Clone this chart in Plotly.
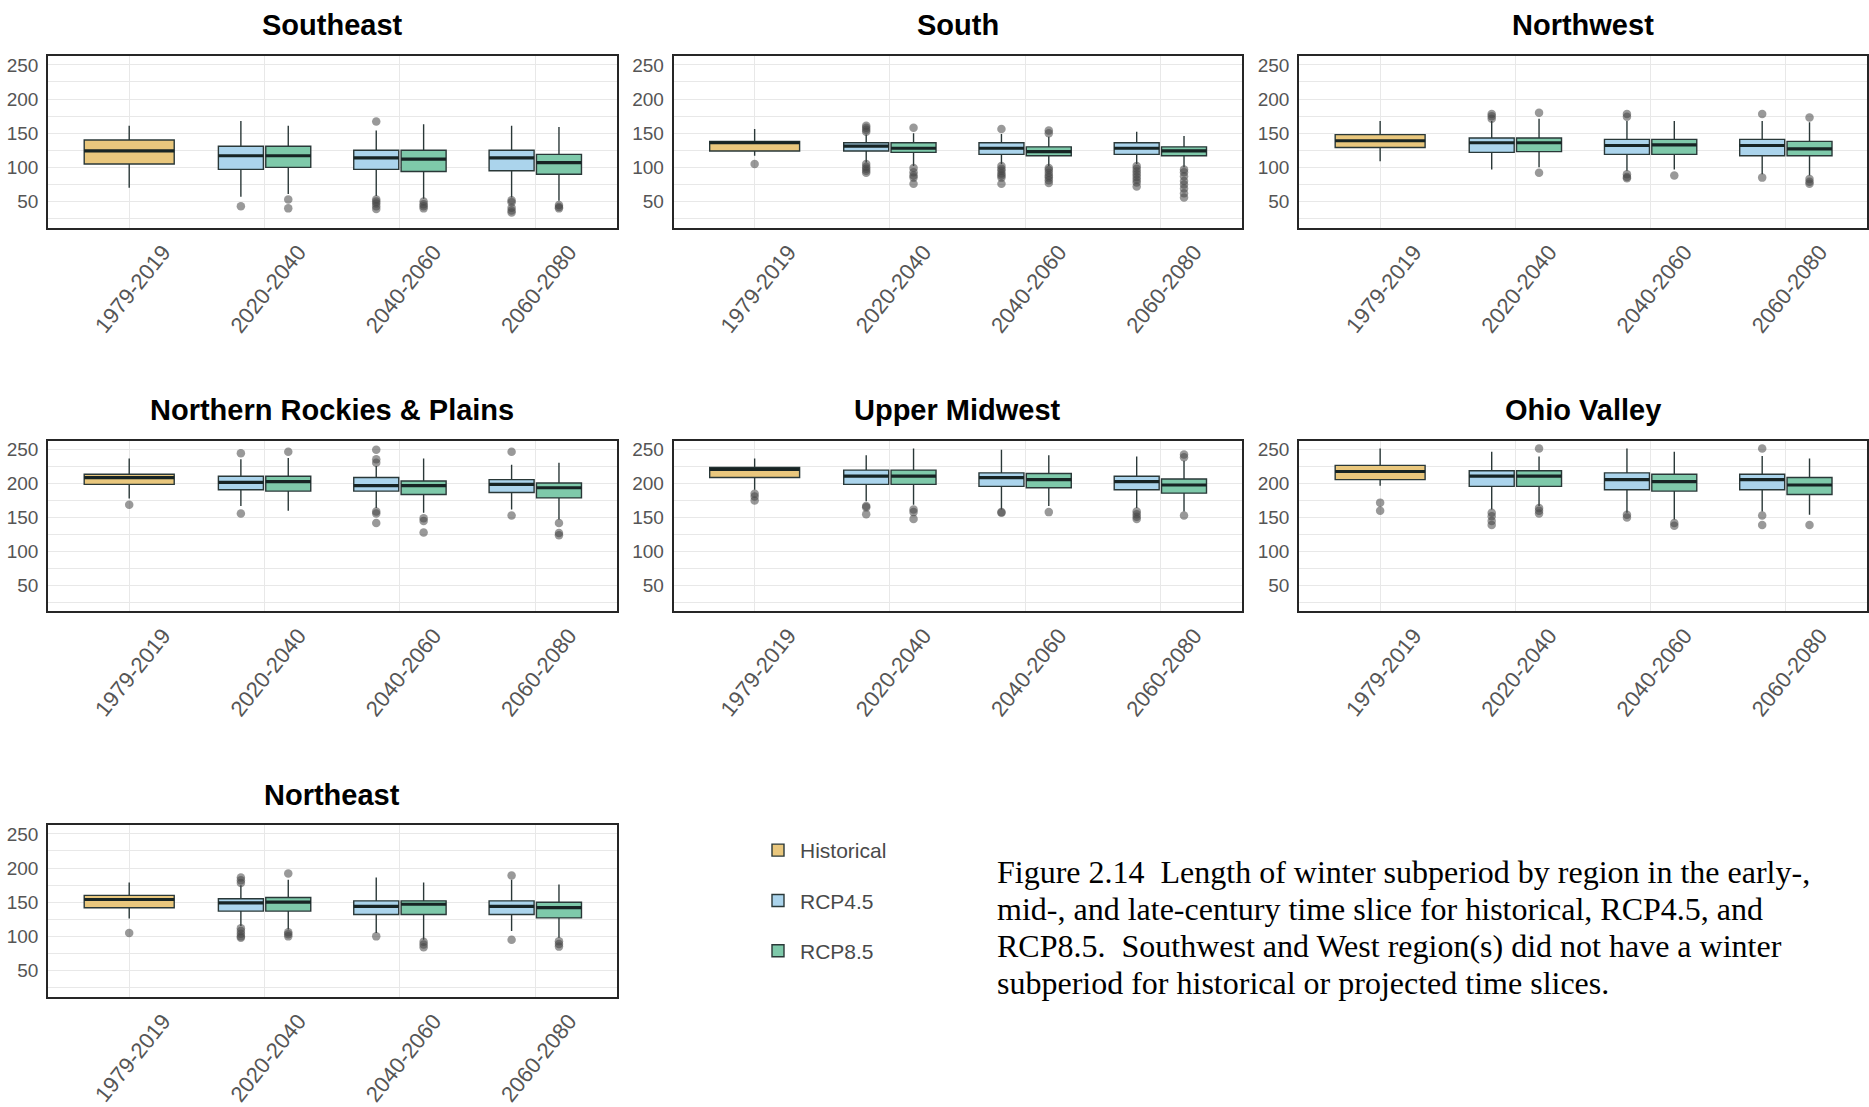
import plotly.graph_objects as go

# ---------------------------------------------------------------------------
# Winter subperiod length (days) by region and time slice.
# Each box is [lower whisker, q1, median, q3, upper whisker]; outliers listed
# separately, one list per box.
# ---------------------------------------------------------------------------
periods = ["1979-2019", "2020-2040", "2040-2060", "2060-2080"]
hist_period = periods[:1]
future_periods = periods[1:]

regions = ["Southeast", "South", "Northwest", "Northern Rockies & Plains",
           "Upper Midwest", "Ohio Valley", "Northeast"]

series_names = ["Historical", "RCP4.5", "RCP8.5"]

# Southeast
southeast_hist = [[70, 105, 124, 140, 161]]
southeast_hist_out = [[]]
southeast_rcp45 = [[57, 97, 117, 131, 168], [58, 97, 114, 125, 154], [56, 95, 114, 125, 161]]
southeast_rcp45_out = [[43], [167, 53, 50, 47, 43, 39], [52, 49, 41, 37, 34]]
southeast_rcp85 = [[61, 100, 117, 131, 161], [54, 94, 112, 125, 163], [51, 90, 107, 119, 159]]
southeast_rcp85_out = [[53, 40], [50, 46, 43, 40], [45, 42, 40]]

# South
south_hist = [[117, 124, 136, 138, 156]]
south_hist_out = [[105]]
south_rcp45 = [[107, 124, 131, 136, 148], [105, 119, 128, 136, 149], [105, 119, 128, 136, 152]]
south_rcp45_out = [[161, 158, 155, 152, 105, 101, 98, 95, 92],
                   [156, 102, 98, 95, 91, 88, 85, 76],
                   [102, 98, 94, 90, 86, 82, 78, 72]]
south_rcp85 = [[102, 122, 128, 136, 150], [102, 117, 123, 130, 145], [100, 117, 124, 130, 146]]
south_rcp85_out = [[158, 99, 93, 88, 85, 76],
                   [154, 150, 99, 96, 92, 88, 85, 81, 77],
                   [97, 93, 87, 80, 75, 69, 62, 56]]

# Northwest
northwest_hist = [[109, 129, 139, 148, 168]]
northwest_hist_out = [[]]
northwest_rcp45 = [[97, 122, 136, 143, 168], [95, 119, 132, 141, 168], [90, 117, 132, 141, 168]]
northwest_rcp45_out = [[178, 175, 171], [178, 174, 90, 86, 84], [178, 85]]
northwest_rcp85 = [[100, 123, 136, 143, 171], [97, 119, 133, 141, 168], [88, 117, 127, 138, 166]]
northwest_rcp85_out = [[180, 92], [88], [173, 83, 79, 76]]

# Northern Rockies & Plains
nrp_hist = [[178, 199, 209, 214, 237]]
nrp_hist_out = [[169]]
nrp_rcp45 = [[167, 191, 202, 211, 236], [164, 189, 197, 209, 226], [162, 187, 199, 206, 228]]
nrp_rcp45_out = [[245, 156], [250, 236, 231, 159, 156, 142], [247, 153]]
nrp_rcp85 = [[160, 189, 203, 211, 238], [157, 184, 197, 204, 237], [147, 179, 194, 201, 231]]
nrp_rcp85_out = [[247], [149, 145, 128], [142, 127, 124]]

# Upper Midwest
umw_hist = [[191, 209, 221, 224, 237]]
umw_hist_out = [[185, 181, 175]]
umw_rcp45 = [[174, 199, 211, 220, 242], [162, 196, 209, 216, 250], [164, 191, 203, 211, 240]]
umw_rcp45_out = [[167, 165, 155], [158, 157], [159, 155, 151, 148]]
umw_rcp85 = [[169, 199, 211, 220, 252], [167, 194, 206, 215, 242], [159, 186, 198, 207, 234]]
umw_rcp85_out = [[162, 158, 148], [158], [243, 239, 153]]

# Ohio Valley
ohv_hist = [[197, 206, 218, 227, 252]]
ohv_hist_out = [[172, 160]]
ohv_rcp45 = [[162, 196, 211, 219, 247], [157, 191, 206, 216, 252], [159, 191, 206, 214, 241]]
ohv_rcp45_out = [[157, 152, 145, 139], [154, 150], [252, 153, 139]]
ohv_rcp85 = [[167, 196, 211, 219, 240], [147, 189, 203, 214, 247], [154, 184, 198, 209, 237]]
ohv_rcp85_out = [[252, 164, 160, 156], [142, 138], [139]]

# Northeast
northeast_hist = [[126, 142, 154, 160, 179]]
northeast_hist_out = [[105]]
northeast_rcp45 = [[115, 137, 149, 155, 175], [105, 132, 144, 152, 186], [108, 132, 144, 152, 183]]
northeast_rcp45_out = [[186, 182, 178, 112, 108, 104, 100, 98], [100], [189, 95]]
northeast_rcp85 = [[110, 137, 150, 157, 183], [95, 132, 147, 152, 179], [98, 127, 142, 150, 176]]
northeast_rcp85_out = [[192, 106, 103, 100], [92, 88, 84], [93, 89, 85]]

y_ticks = [50, 100, 150, 200, 250]
y_minor = [25, 75, 125, 175, 225]

caption_lines = [
    "Figure 2.14  Length of winter subperiod by region in the early-,",
    "mid-, and late-century time slice for historical, RCP4.5, and",
    "RCP8.5.  Southwest and West region(s) did not have a winter",
    "subperiod for historical or projected time slices.",
]

# ---------------------------------------------------------------------------
panel_data = [
    (southeast_hist, southeast_hist_out, southeast_rcp45, southeast_rcp45_out, southeast_rcp85, southeast_rcp85_out),
    (south_hist, south_hist_out, south_rcp45, south_rcp45_out, south_rcp85, south_rcp85_out),
    (northwest_hist, northwest_hist_out, northwest_rcp45, northwest_rcp45_out, northwest_rcp85, northwest_rcp85_out),
    (nrp_hist, nrp_hist_out, nrp_rcp45, nrp_rcp45_out, nrp_rcp85, nrp_rcp85_out),
    (umw_hist, umw_hist_out, umw_rcp45, umw_rcp45_out, umw_rcp85, umw_rcp85_out),
    (ohv_hist, ohv_hist_out, ohv_rcp45, ohv_rcp45_out, ohv_rcp85, ohv_rcp85_out),
    (northeast_hist, northeast_hist_out, northeast_rcp45, northeast_rcp45_out, northeast_rcp85, northeast_rcp85_out),
]

W, H = 1869, 1107
FONT = "Liberation Sans, Arial, sans-serif"
SERIF = "Liberation Serif, Times New Roman, serif"
TICK_COLOR = "#555555"
GRID = "#e8e8e8"
FRAME = "#262626"
BOX_LINE = "#2a3838"
MEDIAN_LINE = "#172424"
FILLS = {"Historical": "#E9C77D", "RCP4.5": "#ABD4EC", "RCP8.5": "#7EC9AA"}

# panel frames in pixels: columns (left, right) and rows (top, bottom)
col_px = [(48, 616.5), (673.5, 1241.5), (1299, 1867)]
row_px = [(56, 227.5), (441, 611), (825, 996.5)]
title_y_px = [25, 410, 795]
caption_top_px = 871.5
caption_step_px = 37

fig = go.Figure()
layout = dict(
    width=W, height=H,
    margin=dict(l=0, r=0, t=0, b=0),
    paper_bgcolor="white", plot_bgcolor="white",
    template="none",
    boxmode="group", boxgap=0.3, boxgroupgap=0.05,
    showlegend=True,
    legend=dict(
        x=756 / W, y=1 - 830 / H, xanchor="left", yanchor="top",
        font=dict(family=FONT, size=21, color="#4a4a4a"),
        tracegroupgap=20, bgcolor="rgba(0,0,0,0)", itemwidth=34,
    ),
)
annotations = []

for idx, region in enumerate(regions):
    r, c = divmod(idx, 3)
    n = idx + 1
    xname = "xaxis" if n == 1 else f"xaxis{n}"
    yname = "yaxis" if n == 1 else f"yaxis{n}"
    xref = "x" if n == 1 else f"x{n}"
    yref = "y" if n == 1 else f"y{n}"
    x0, x1 = col_px[c]
    top, bottom = row_px[r]

    layout[xname] = dict(
        domain=[x0 / W, x1 / W], anchor=yref,
        type="category", categoryorder="array", categoryarray=periods,
        range=[-0.6, 3.6],
        showgrid=True, gridcolor=GRID, gridwidth=1,
        showline=True, mirror=True, linecolor=FRAME, linewidth=1.6,
        ticks="", tickangle=-51,
        tickfont=dict(family=FONT, size=22, color=TICK_COLOR),
        ticklabelshift=34, ticklabelstandoff=1,
        zeroline=False, fixedrange=True, automargin=False,
    )
    layout[yname] = dict(
        domain=[1 - bottom / H, 1 - top / H], anchor=xref,
        range=[12, 263], tickmode="array", tickvals=y_ticks,
        showgrid=True, gridcolor=GRID, gridwidth=1.2,
        minor=dict(tickmode="array", tickvals=y_minor, showgrid=True, gridcolor=GRID, gridwidth=1),
        showline=True, mirror=True, linecolor=FRAME, linewidth=1.6,
        ticks="", tickfont=dict(family=FONT, size=19, color=TICK_COLOR),
        ticklabelstandoff=4,
        zeroline=False, fixedrange=True, automargin=False,
    )

    annotations.append(dict(
        text=f"<b>{region}</b>", xref="paper", yref="paper",
        x=(x0 + x1) / 2 / W, y=1 - title_y_px[r] / H,
        xanchor="center", yanchor="middle", showarrow=False,
        font=dict(family=FONT, size=29, color="black"),
    ))

    hist, hist_out, rcp45, rcp45_out, rcp85, rcp85_out = panel_data[idx]
    series = [
        ("Historical", hist_period, hist, hist_out, "hist", "hist"),
        ("RCP4.5", future_periods, rcp45, rcp45_out, "rcp", "rcp45"),
        ("RCP8.5", future_periods, rcp85, rcp85_out, "rcp", "rcp85"),
    ]
    for name, cats, stats, outs, align, offset in series:
        lo = [s[0] for s in stats]
        q1 = [s[1] for s in stats]
        med = [s[2] for s in stats]
        q3 = [s[3] for s in stats]
        hi = [s[4] for s in stats]
        # outlier samples are only attached when every box has some
        samples = outs if all(len(o) > 0 for o in outs) else None
        fig.add_trace(go.Box(
            name=name, legendgroup=name, showlegend=(idx == 0),
            x=cats, y=samples,
            q1=q1, median=med, q3=q3, lowerfence=lo, upperfence=hi,
            boxpoints="outliers" if samples else False, jitter=0, pointpos=0,
            marker=dict(color="rgba(70,70,70,0.55)", size=8.5, line=dict(width=0)),
            fillcolor=FILLS[name], line=dict(color=BOX_LINE, width=1.4),
            whiskerwidth=0,
            alignmentgroup=align, offsetgroup=offset,
            xaxis=xref, yaxis=yref, hoverinfo="skip",
        ))
        # heavier median stroke drawn over the box
        fig.add_trace(go.Box(
            name=name, legendgroup=name, showlegend=False,
            x=cats, q1=med, median=med, q3=med, lowerfence=med, upperfence=med,
            boxpoints=False, whiskerwidth=0,
            fillcolor="rgba(0,0,0,0)", line=dict(color=MEDIAN_LINE, width=3.2),
            alignmentgroup=align, offsetgroup=offset,
            xaxis=xref, yaxis=yref, hoverinfo="skip",
        ))

for i, line in enumerate(caption_lines):
    annotations.append(dict(
        text=line, xref="paper", yref="paper",
        x=995 / W, y=1 - (caption_top_px + i * caption_step_px) / H,
        xanchor="left", yanchor="middle", align="left", showarrow=False,
        font=dict(family=SERIF, size=32, color="black"),
    ))
layout["annotations"] = annotations

fig.update_layout(**layout)
fig.write_html("out.html")
